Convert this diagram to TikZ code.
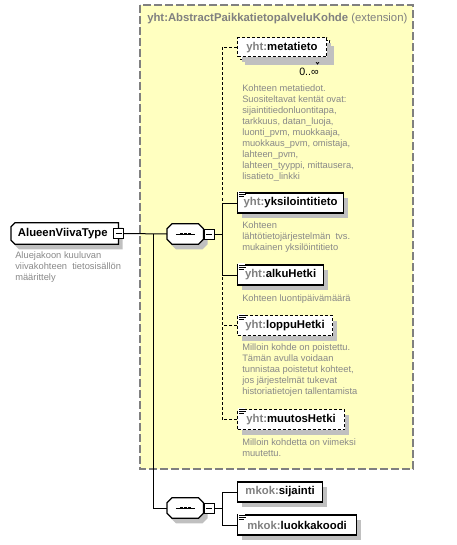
\documentclass[tikz,border=0pt]{standalone}
\usepackage{fontspec}
\setmainfont{Liberation Sans}
\usetikzlibrary{shadows}

\definecolor{extfill}{RGB}{255,255,192}
\definecolor{extline}{RGB}{128,128,128}
\definecolor{pfxgray}{RGB}{128,128,128}
\definecolor{descgray}{RGB}{136,136,136}
\definecolor{shadowgray}{RGB}{192,192,192}

% small "documentation" lines in the corner of a box
\newcommand{\docmark}[1]{%
  \fill[white] ([shift={(1,-1)}]#1.north west) rectangle ([shift={(8,6)}]#1.north west);
  \foreach \dy/\len in {0.5/7,2.5/7,4.5/5}
    \draw[line width=0.6pt] ([shift={(2,\dy)}]#1.north west) -- ++(\len,0);
}
% octagon of a compositor, with the sequence mark inside
\newcommand{\seqshape}[1]{%
  \filldraw[outline,shadowed] ([shift={(5,0)}]#1.north west) -- ([shift={(-5,0)}]#1.north east)
    -- ([shift={(0,5)}]#1.north east) -- ([shift={(0,-5)}]#1.south east)
    -- ([shift={(-5,0)}]#1.south east) -- ([shift={(5,0)}]#1.south west)
    -- ([shift={(0,-5)}]#1.south west) -- ([shift={(0,5)}]#1.north west) -- cycle;
  \draw[line width=0.75pt] ([xshift=-7pt]#1.center) -- ([xshift=7pt]#1.center);
  \foreach \dx in {-3,0,3}
    \fill ([xshift=\dx pt]#1.center) +(-1.1pt,-1.1pt) rectangle +(1.1pt,1.1pt);
}

\begin{document}
\begin{tikzpicture}[x=0.75pt,y=-0.75pt,
  shadowed/.style={preaction={fill=shadowgray,draw=none,transform canvas={shift={(3pt,-3.75pt)}}}},
  outline/.style={draw,fill=white,line width=0.9pt},
  elem/.style={draw,line width=0.9pt,fill=white,anchor=west,minimum height=15pt,inner sep=0pt,
    font=\fontsize{8.5}{10}\selectfont\bfseries,
    drop shadow={shadow xshift=3pt,shadow yshift=-3.75pt,opacity=1,fill=shadowgray}},
  optelem/.style={elem,line width=0.75pt,dash pattern=on 2.25pt off 1.5pt},
  frame/.style={minimum width=#1,minimum height=15pt,inner sep=0pt,anchor=west},
  collapse/.style={draw,fill=white,line width=0.6pt,minimum size=7.5pt,inner sep=0pt,
    path picture={\draw[line width=0.6pt] ([xshift=1.5pt]path picture bounding box.west) -- ([xshift=-1.5pt]path picture bounding box.east);}},
  desc/.style={anchor=north west,inner sep=0pt,align=left,text=descgray,font=\fontsize{7}{8.25}\selectfont},
  link/.style={line width=0.75pt},
  optlink/.style={link,dash pattern=on 2.25pt off 1.5pt}]
\useasboundingbox (0,0) rectangle (456,545);

% extension frame
\draw[extline,fill=extfill,line width=0.9pt,dash pattern=on 6pt off 2.25pt] (140,5) rectangle (413,469);
\node[anchor=west,inner sep=0pt,text=pfxgray,font=\fontsize{8.5}{10}\selectfont] (exttitle) at (147,19)
  {\textbf{yht:AbstractPaikkatietopalveluKohde} (extension)};

% the type
\node[frame=80.25pt,minimum height=15.75pt] (type) at (11,233.5) {};
\filldraw[outline,shadowed] ([shift={(4,0)}]type.north west) -- (type.north east) -- (type.south east)
  -- ([shift={(4,0)}]type.south west) -- ([shift={(0,-4)}]type.south west) -- ([shift={(0,4)}]type.north west) -- cycle;
\node[font=\fontsize{8.5}{10}\selectfont\bfseries,inner sep=0pt] (typename) at ([xshift=-1.5pt]type.center) {AlueenViivaType};
\node[collapse] (typeminus) at (type.east) {};
\node[desc] (typedesc) at (15,251) {Aluejakoon kuuluvan\\viivakohteen\ \ tietosisällön\\määrittely};

% sequences
\node[frame=27pt] (seqa) at (167,234) {};
\seqshape{seqa}
\node[collapse,anchor=west] (seqaminus) at (seqa.east) {};
\node[frame=27pt] (seqb) at (167,508) {};
\seqshape{seqb}
\node[collapse,anchor=west] (seqbminus) at (seqb.east) {};

% elements of the extension
\node[optelem,minimum width=66.75pt,minimum height=14.25pt] (metaback) at (240,50.5) {};
\draw[line width=0.6pt] ([shift={(-15,0)}]metaback.south east) -- ++(2.5,3.5) -- ++(2.5,-3.5);
\node[optelem,minimum width=66.75pt,minimum height=14.25pt,drop shadow={opacity=0}] (meta) at (237,47.5)
  {\textcolor{pfxgray}{yht:}metatieto};
\node[anchor=east,inner sep=0pt,font=\fontsize{8}{10}\selectfont] (metamult) at (319,72) {0..∞};
\node[desc] (metadesc) at (242,84.5) {Kohteen metatiedot.\\Suositeltavat kentät ovat:\\sijaintitiedonluontitapa,\\tarkkuus, datan\_luoja,\\luonti\_pvm, muokkaaja,\\muokkaus\_pvm, omistaja,\\lahteen\_pvm,\\lahteen\_tyyppi, mittausera,\\lisatieto\_linkki};

\node[elem,minimum width=79.5pt] (yksilo) at (237,203) {\textcolor{pfxgray}{yht:}yksilointitieto};
\docmark{yksilo}
\node[desc] (yksilodesc) at (242,221.5) {Kohteen\\lähtötietojärjestelmän\ \ tvs.\\mukainen yksilöintitieto};

\node[elem,minimum width=64.5pt] (alku) at (237,275) {\textcolor{pfxgray}{yht:}alkuHetki};
\docmark{alku}
\node[desc] (alkudesc) at (242,294) {Kohteen luontipäivämäärä};

\node[optelem,minimum width=71.25pt] (loppu) at (237,325.5) {\textcolor{pfxgray}{yht:}loppuHetki};
\docmark{loppu}
\node[desc] (loppudesc) at (242,343.5) {Milloin kohde on poistettu.\\Tämän avulla voidaan\\tunnistaa poistetut kohteet,\\jos järjestelmät tukevat\\historiatietojen tallentamista};

\node[optelem,minimum width=80.25pt] (muutos) at (237,419.5) {\textcolor{pfxgray}{yht:}muutosHetki};
\docmark{muutos}
\node[desc] (muutosdesc) at (242,438) {Milloin kohdetta on viimeksi\\muutettu.};

% elements of the type itself
\node[elem,minimum width=63.75pt] (sijainti) at (237,492) {\textcolor{pfxgray}{mkok:}sijainti};
\node[elem,minimum width=89.25pt] (luokka) at (237,525) {\textcolor{pfxgray}{mkok:}luokkakoodi};
\docmark{luokka}

% connectors
\coordinate (split) at (153,233.5);
\coordinate (busa) at (222,234);
\coordinate (busb) at (222,508);
\draw[link] (typeminus.east) -- (seqa.west);
\draw[link] (split) |- (seqb.west);
\draw[link] (seqaminus.east) -- (busa);
\draw[optlink] (meta.west) -| (yksilo.west -| busa);
\draw[link] (yksilo.west) -| (busa);
\draw[link] (alku.west) -| (busa);
\draw[optlink] (loppu.west) -- (loppu.west -| busa);
\draw[optlink] (muutos.west) -| (alku.west -| busa);
\draw[link] (seqbminus.east) -- (busb);
\draw[link] (sijainti.west) -| (busb);
\draw[link] (luokka.west) -| (busb);
\end{tikzpicture}
\end{document}
